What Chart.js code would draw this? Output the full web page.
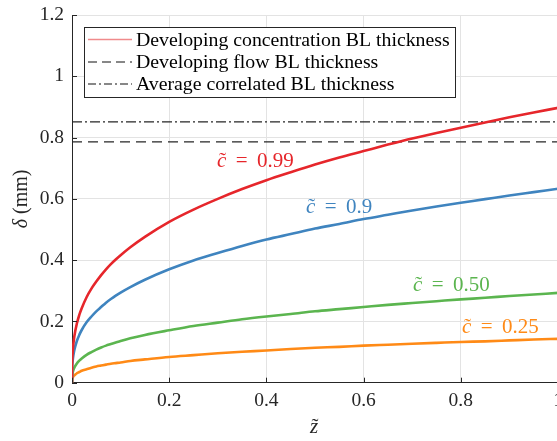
<!DOCTYPE html>
<html><head><meta charset="utf-8">
<script src="https://cdn.jsdelivr.net/npm/chart.js@4/dist/chart.umd.min.js"></script>
<style>html,body{margin:0;padding:0;overflow:hidden;background:#fff;width:557px;height:441px}#wrap{width:600px;height:441px}</style>
</head><body><div id="wrap"><canvas id="c" width="600" height="441"></canvas></div>
<script>
// data
const zValues = [0,0.0002,0.001,0.002,0.003,0.005,0.01,0.015,0.02,0.03,0.04,0.05,0.06,0.07,0.08,0.09,0.1,0.12,0.15,0.2,0.25,0.3,0.35,0.4,0.45,0.5,0.55,0.6,0.65,0.7,0.75,0.8,0.85,0.9,0.95,1.0];
const c099 = [0,0.052,0.090,0.113,0.129,0.153,0.193,0.221,0.243,0.279,0.307,0.330,0.351,0.370,0.387,0.402,0.416,0.442,0.476,0.525,0.565,0.600,0.632,0.661,0.687,0.712,0.735,0.756,0.777,0.797,0.815,0.832,0.849,0.866,0.882,0.897];
const c090 = [0,0.037,0.063,0.080,0.091,0.108,0.136,0.156,0.172,0.197,0.216,0.233,0.247,0.261,0.273,0.284,0.294,0.312,0.336,0.370,0.399,0.423,0.446,0.467,0.485,0.503,0.518,0.534,0.548,0.562,0.575,0.587,0.599,0.611,0.622,0.633];
const c050 = [0,0.017,0.029,0.037,0.042,0.050,0.063,0.072,0.079,0.091,0.100,0.108,0.115,0.121,0.126,0.131,0.136,0.145,0.156,0.171,0.185,0.196,0.207,0.216,0.224,0.233,0.240,0.247,0.254,0.260,0.266,0.272,0.277,0.283,0.288,0.293];
const c025 = [0,0.008,0.014,0.018,0.021,0.024,0.031,0.035,0.039,0.044,0.049,0.053,0.056,0.059,0.062,0.064,0.066,0.071,0.076,0.084,0.090,0.096,0.101,0.105,0.110,0.114,0.117,0.121,0.124,0.127,0.130,0.133,0.135,0.138,0.141,0.143];
const flowBL = 0.786;
const avgBL = 0.851;
const curveLabels = ['0.99','0.9','0.50','0.25'];
const legendLabels = ['Developing concentration BL thickness','Developing flow BL thickness','Average correlated BL thickness'];
const xTicks = [0,0.2,0.4,0.6,0.8,1];
const yTicks = [0,0.2,0.4,0.6,0.8,1,1.2];

const colors = ['#e6262b','#3f84bf','#5bb54f','#ff8a16'];
const pts = arr => zValues.map((z,i)=>({x:z,y:arr[i]}));
const AX = '#262626';
const SERIF = '"Liberation Serif", serif';

const datasets = [c099,c090,c050,c025].map((a,i)=>({data:pts(a),borderColor:colors[i],borderWidth:2.6,pointRadius:0,cubicInterpolationMode:'monotone',fill:false}));
datasets.push({data:[{x:0,y:avgBL},{x:1,y:avgBL}],borderColor:'#262626',borderWidth:1.2,borderDash:[10,3,2,3],pointRadius:0});
datasets.push({data:[{x:0,y:flowBL},{x:1,y:flowBL}],borderColor:'#262626',borderWidth:1.2,borderDash:[10,6],pointRadius:0});

function tildeLetter(ctx, letter, x, y, size, color){
  ctx.font = 'italic '+size+'px '+SERIF;
  ctx.fillStyle = color;
  ctx.textBaseline = 'alphabetic';
  ctx.textAlign = 'left';
  ctx.fillText(letter, x, y);
  const w = ctx.measureText(letter).width;
  ctx.font = size+'px '+SERIF;
  ctx.textAlign = 'center';
  ctx.fillText('\u02DC', x + w*0.6, y - size*0.02);
  return w;
}
function cLabel(ctx, num, x, y, color){
  const s = 21;
  const w = tildeLetter(ctx,'c',x,y,s,color);
  ctx.font = s+'px '+SERIF;
  ctx.textAlign='left';
  let xx = x + w + s*0.45;
  ctx.fillText('=', xx, y);
  xx += ctx.measureText('=').width + s*0.45;
  ctx.fillText(num, xx, y);
}

const deco = {
  id:'deco',
  afterDraw(chart){
    const ctx = chart.ctx, xs = chart.scales.x, ys = chart.scales.y, a = chart.chartArea;
    ctx.save();
    // inner ticks
    ctx.strokeStyle = AX; ctx.lineWidth = 1;
    ctx.beginPath();
    xTicks.forEach(v=>{const px=Math.round(xs.getPixelForValue(v))+0.5; ctx.moveTo(px,a.bottom); ctx.lineTo(px,a.bottom-5);});
    yTicks.forEach(v=>{const py=Math.round(ys.getPixelForValue(v))+0.5; ctx.moveTo(a.left,py); ctx.lineTo(a.left+5,py);});
    ctx.stroke();
    // legend
    const lx=84, ly=27, lw=371, lh=70;
    ctx.fillStyle='#fff'; ctx.fillRect(lx,ly,lw,lh);
    ctx.strokeStyle=AX; ctx.lineWidth=1; ctx.strokeRect(lx+0.5,ly+0.5,lw,lh);
    const rows=[39.5,62,84];
    const styles=[{c:'#f08a8c',d:[],w:1.5},{c:'#111',d:[9,5],w:1.2},{c:'#111',d:[8,3,2,3],w:1.2}];
    ctx.font='19.8px '+SERIF; ctx.textBaseline='middle'; ctx.textAlign='left';
    rows.forEach((ry,i)=>{
      ctx.strokeStyle=styles[i].c; ctx.lineWidth=styles[i].w; ctx.setLineDash(styles[i].d);
      ctx.beginPath(); ctx.moveTo(88,ry); ctx.lineTo(132,ry); ctx.stroke();
      ctx.setLineDash([]);
      ctx.fillStyle='#000'; ctx.fillText(legendLabels[i],136,ry+1);
    });
    // curve labels
    const pos=[[217,167],[306,213],[413,291],[462,333]];
    curveLabels.forEach((t,i)=>cLabel(ctx,t,pos[i][0],pos[i][1],colors[i]));
    // axis titles
    ctx.save();
    ctx.translate(22,(a.top+a.bottom)/2);
    ctx.rotate(-Math.PI/2);
    ctx.textBaseline='middle';
    ctx.font='italic 20px '+SERIF; ctx.fillStyle=AX; ctx.textAlign='left';
    const dw=ctx.measureText('\u03B4').width;
    ctx.font='20px '+SERIF;
    const rw=ctx.measureText(' (mm)').width;
    const start=-(dw+rw)/2;
    ctx.font='italic 20px '+SERIF; ctx.fillText('\u03B4',start,0);
    ctx.font='20px '+SERIF; ctx.fillText(' (mm)',start+dw,0);
    ctx.restore();
    const zx=(a.left+a.right)/2;
    tildeLetter(ctx,'z',zx-5,433,21,AX);
    ctx.restore();
  }
};

new Chart(document.getElementById('c'),{
  type:'line',
  data:{datasets},
  options:{
    responsive:false, animation:false,
    layout:{padding:{left:0,top:15,right:42,bottom:0}},
    plugins:{legend:{display:false},tooltip:{enabled:false}},
    scales:{
      x:{type:'linear',min:0,max:1,
        afterBuildTicks:s=>{s.ticks=xTicks.map(v=>({value:v}));},
        afterFit:s=>{s.height=58.3;},
        grid:{color:'#e3e3e3',drawTicks:false},
        border:{color:AX,width:1},
        ticks:{padding:6,color:AX,font:{family:'Liberation Serif',size:19.5},callback:v=>String(+v.toFixed(1))}},
      y:{min:0,max:1.2,
        afterBuildTicks:s=>{s.ticks=yTicks.map(v=>({value:v}));},
        afterFit:s=>{s.width=72;},
        grid:{color:'#e3e3e3',drawTicks:false},
        border:{color:AX,width:1},
        ticks:{padding:8,color:AX,font:{family:'Liberation Serif',size:19.5,lineHeight:0.4},callback:v=>String(+v.toFixed(1))}}
    }
  },
  plugins:[deco]
});
</script></body></html>
